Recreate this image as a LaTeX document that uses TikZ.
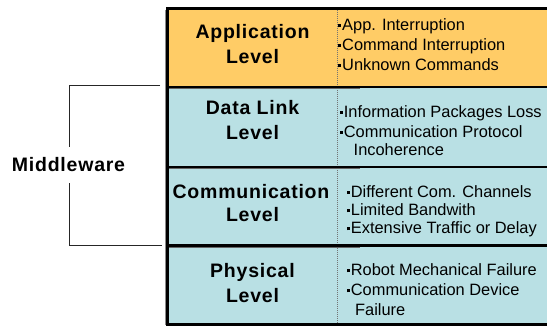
\documentclass[tikz,border=0pt]{standalone}
\usepackage{fontspec}
\setmainfont{Liberation Sans}
\newfontfamily\lvlfont{Liberation Sans}[LetterSpace=4]
\definecolor{appfill}{RGB}{255,204,102}
\definecolor{netfill}{RGB}{185,224,228}
% small square bullet
\newcommand\blt{\rule[3.5pt]{3pt}{3pt}\hspace{1.2pt}}
\tikzset{
  lvl/.style={font=\lvlfont\bfseries\fontsize{19.5}{22}\selectfont, anchor=base, inner sep=0pt},
  itm/.style={font=\fontsize{16.4}{19}\selectfont, anchor=base west, inner sep=0pt},
  rowline/.style={line width=2.2pt, black},
  rowshade/.style={line width=1.2pt, black!60},
  brk/.style={line width=1.5pt, black!85},
  divider/.style={line width=0.6pt, black!55, dash pattern=on 1pt off 1pt},
}
\begin{document}
\begin{tikzpicture}[x=1pt,y=-1pt]
\useasboundingbox (0,0) rectangle (547,326);

% row backgrounds
\fill[appfill] (168,9) rectangle (547,86.7);
\fill[netfill] (168,86.7) rectangle (547,324.5);

% column divider
\draw[divider] (337,10) -- (337,324);

% row separators
\foreach \y in {86.7,167.3,245.5} {
  \draw[rowshade] (168,\y+1.6) -- (360,\y+1.6);
  \draw[rowline] (168,\y) -- (547,\y);
}

% outer frame
\draw[black!45, line width=1pt] (165.3,10) -- (165.3,325);
\draw[line width=2.4pt] (547,8.6) -- (167.6,8.6) -- (167.6,324.6) -- (547,324.6);

% level names
\node[lvl] (appA) at (252.5,39) {Application};
\node[lvl] (appB) at (252.5,64) {Level};
\node[lvl] (dlA) at (252.5,115) {Data Link};
\node[lvl] (dlB) at (252.5,140) {Level};
\node[lvl] (coA) at (251,199) {Communication};
\node[lvl] (coB) at (252.5,222) {Level};
\node[lvl] (phA) at (252.5,277) {Physical};
\node[lvl] (phB) at (252.5,302) {Level};

% failure items
\node[itm] (ap1) at (337.8,31) {\blt App. Interruption};
\node[itm] (ap2) at (337.8,51) {\blt Command Interruption};
\node[itm] (ap3) at (337.8,71) {\blt Unknown Commands};

\node[itm] (dl1) at (339.5,117.5) {\blt Information Packages Loss};
\node[itm] (dl2) at (339.5,137.5) {\blt Communication Protocol};
\node[itm] (dl3) at (353.5,156) {Incoherence};

\node[itm] (co1) at (346.5,197.5) {\blt Different Com. Channels};
\node[itm] (co2) at (346.5,216) {\blt Limited Bandwith};
\node[itm] (co3) at (346.5,234) {\blt Extensive Traffic or Delay};

\node[itm] (ph1) at (346.5,276) {\blt Robot Mechanical Failure};
\node[itm] (ph2) at (346.5,296) {\blt Communication Device};
\node[itm] (ph3) at (355,316) {Failure};

% middleware bracket
\node[font=\lvlfont\bfseries\fontsize{19.5}{22}\selectfont, minimum height=36pt, inner sep=0pt] (mw) at (68.5,165) {Middleware};
\coordinate (bt) at (160,85.7);
\coordinate (bb) at (161.5,245.6);
\draw[brk] (bt) -| ([xshift=1pt]mw.north);
\draw[brk] (bb) -| ([xshift=1pt]mw.south);
\end{tikzpicture}
\end{document}
